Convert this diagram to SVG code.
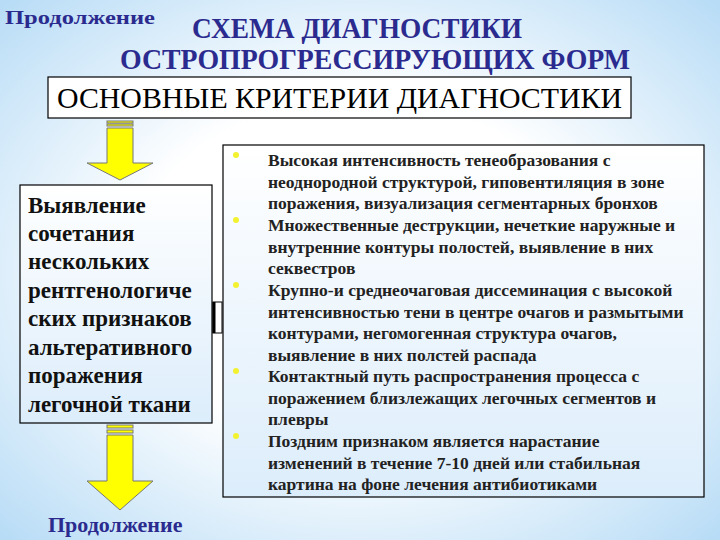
<svg xmlns="http://www.w3.org/2000/svg" width="720" height="540" viewBox="0 0 720 540">
<defs>
<radialGradient id="bg" cx="0.5" cy="0.5" r="0.7">
<stop offset="0.45" stop-color="#ffffff"/><stop offset="1" stop-color="#b8dcf6"/>
</radialGradient>
<linearGradient id="box" x1="0" y1="0" x2="0" y2="1"><stop offset="0" stop-color="#ffffff"/><stop offset="1" stop-color="#dcedfb"/></linearGradient>
</defs>
<style>
text{font-family:"Liberation Serif","DejaVu Serif","Times New Roman",serif}
.ttl{font-weight:bold;fill:#2b2b8f}
.box{fill:url(#box);stroke:#000;stroke-width:1.2}
.lt{font-weight:bold;font-size:23px;fill:#111}
.rt{font-weight:bold;font-size:17.5px;fill:#222}
.arr{fill:#ffff00;stroke:#777;stroke-width:1}
.bul{fill:#f2f230}
</style>
<rect width="720" height="540" fill="url(#bg)"/>
<g id="title">
<text class="ttl" x="5" y="24" font-size="18" textLength="150" lengthAdjust="spacingAndGlyphs">Продолжение</text>
<text class="ttl" x="192" y="38" font-size="29" textLength="330" lengthAdjust="spacingAndGlyphs">СХЕМА ДИАГНОСТИКИ</text>
<text class="ttl" x="120" y="69" font-size="29" textLength="510" lengthAdjust="spacingAndGlyphs">ОСТРОПРОГРЕССИРУЮЩИХ ФОРМ</text>
</g>
<g id="header">
<rect x="48" y="77" width="583" height="41" fill="#fff" stroke="#000" stroke-width="1.2"/>
<text x="57" y="108" font-size="29" fill="#000" textLength="565" lengthAdjust="spacingAndGlyphs">ОСНОВНЫЕ КРИТЕРИИ ДИАГНОСТИКИ</text>
</g>
<g id="connectors">
<rect class="arr" x="107" y="121" width="26" height="2"/>
<rect class="arr" x="107" y="124" width="26" height="2"/>
<path class="arr" d="M107 128 H133 V163 H153 L120 180 L87 163 H107 Z"/>
<rect class="arr" x="107" y="425" width="26" height="3"/>
<rect class="arr" x="107" y="430" width="26" height="3"/>
<path class="arr" d="M107 435 H133 V481 H153 L120 510 L87 481 H107 Z"/>
<rect x="213" y="302" width="9" height="31" fill="#fff" stroke="#000" stroke-width="1"/>
<line x1="214" y1="302" x2="214" y2="333" stroke="#000" stroke-width="3"/>
</g>
<g id="left">
<rect class="box" x="20" y="185" width="192" height="238"/>
<text class="lt"><tspan x="28" y="213">Выявление</tspan><tspan x="28" y="241">сочетания</tspan><tspan x="28" y="269">нескольких</tspan><tspan x="28" y="298">рентгенологиче</tspan><tspan x="28" y="326">ских признаков</tspan><tspan x="28" y="355">альтеративного</tspan><tspan x="28" y="383">поражения</tspan><tspan x="28" y="412">легочной ткани</tspan></text>
</g>
<g id="right">
<rect class="box" x="223" y="145" width="481" height="352"/>
<circle class="bul" cx="236" cy="155" r="3"/>
<circle class="bul" cx="236" cy="220" r="3"/>
<circle class="bul" cx="236" cy="285" r="3"/>
<circle class="bul" cx="236" cy="371" r="3"/>
<circle class="bul" cx="236" cy="436" r="3"/>
<text class="rt"><tspan x="268" y="166">Высокая интенсивность тенеобразования с</tspan><tspan x="268" y="188">неоднородной структурой, гиповентиляция в зоне</tspan><tspan x="268" y="209">поражения, визуализация сегментарных бронхов</tspan><tspan x="268" y="231">Множественные деструкции, нечеткие наружные и</tspan><tspan x="268" y="253">внутренние контуры полостей, выявление в них</tspan><tspan x="268" y="274">секвестров</tspan><tspan x="268" y="296">Крупно-и среднеочаговая диссеминация с высокой</tspan><tspan x="268" y="318">интенсивностью тени в центре очагов и размытыми</tspan><tspan x="268" y="339">контурами, негомогенная структура очагов,</tspan><tspan x="268" y="361">выявление в них полстей распада</tspan><tspan x="268" y="382">Контактный путь распространения процесса с</tspan><tspan x="268" y="404">поражением близлежащих легочных сегментов и</tspan><tspan x="268" y="425">плевры</tspan><tspan x="268" y="447">Поздним признаком является нарастание</tspan><tspan x="268" y="469">изменений в течение 7-10 дней или стабильная</tspan><tspan x="268" y="490">картина на фоне лечения антибиотиками</tspan></text>
</g>
<g id="footer">
<text class="ttl" x="48" y="532" font-size="22">Продолжение</text>
</g>
</svg>
